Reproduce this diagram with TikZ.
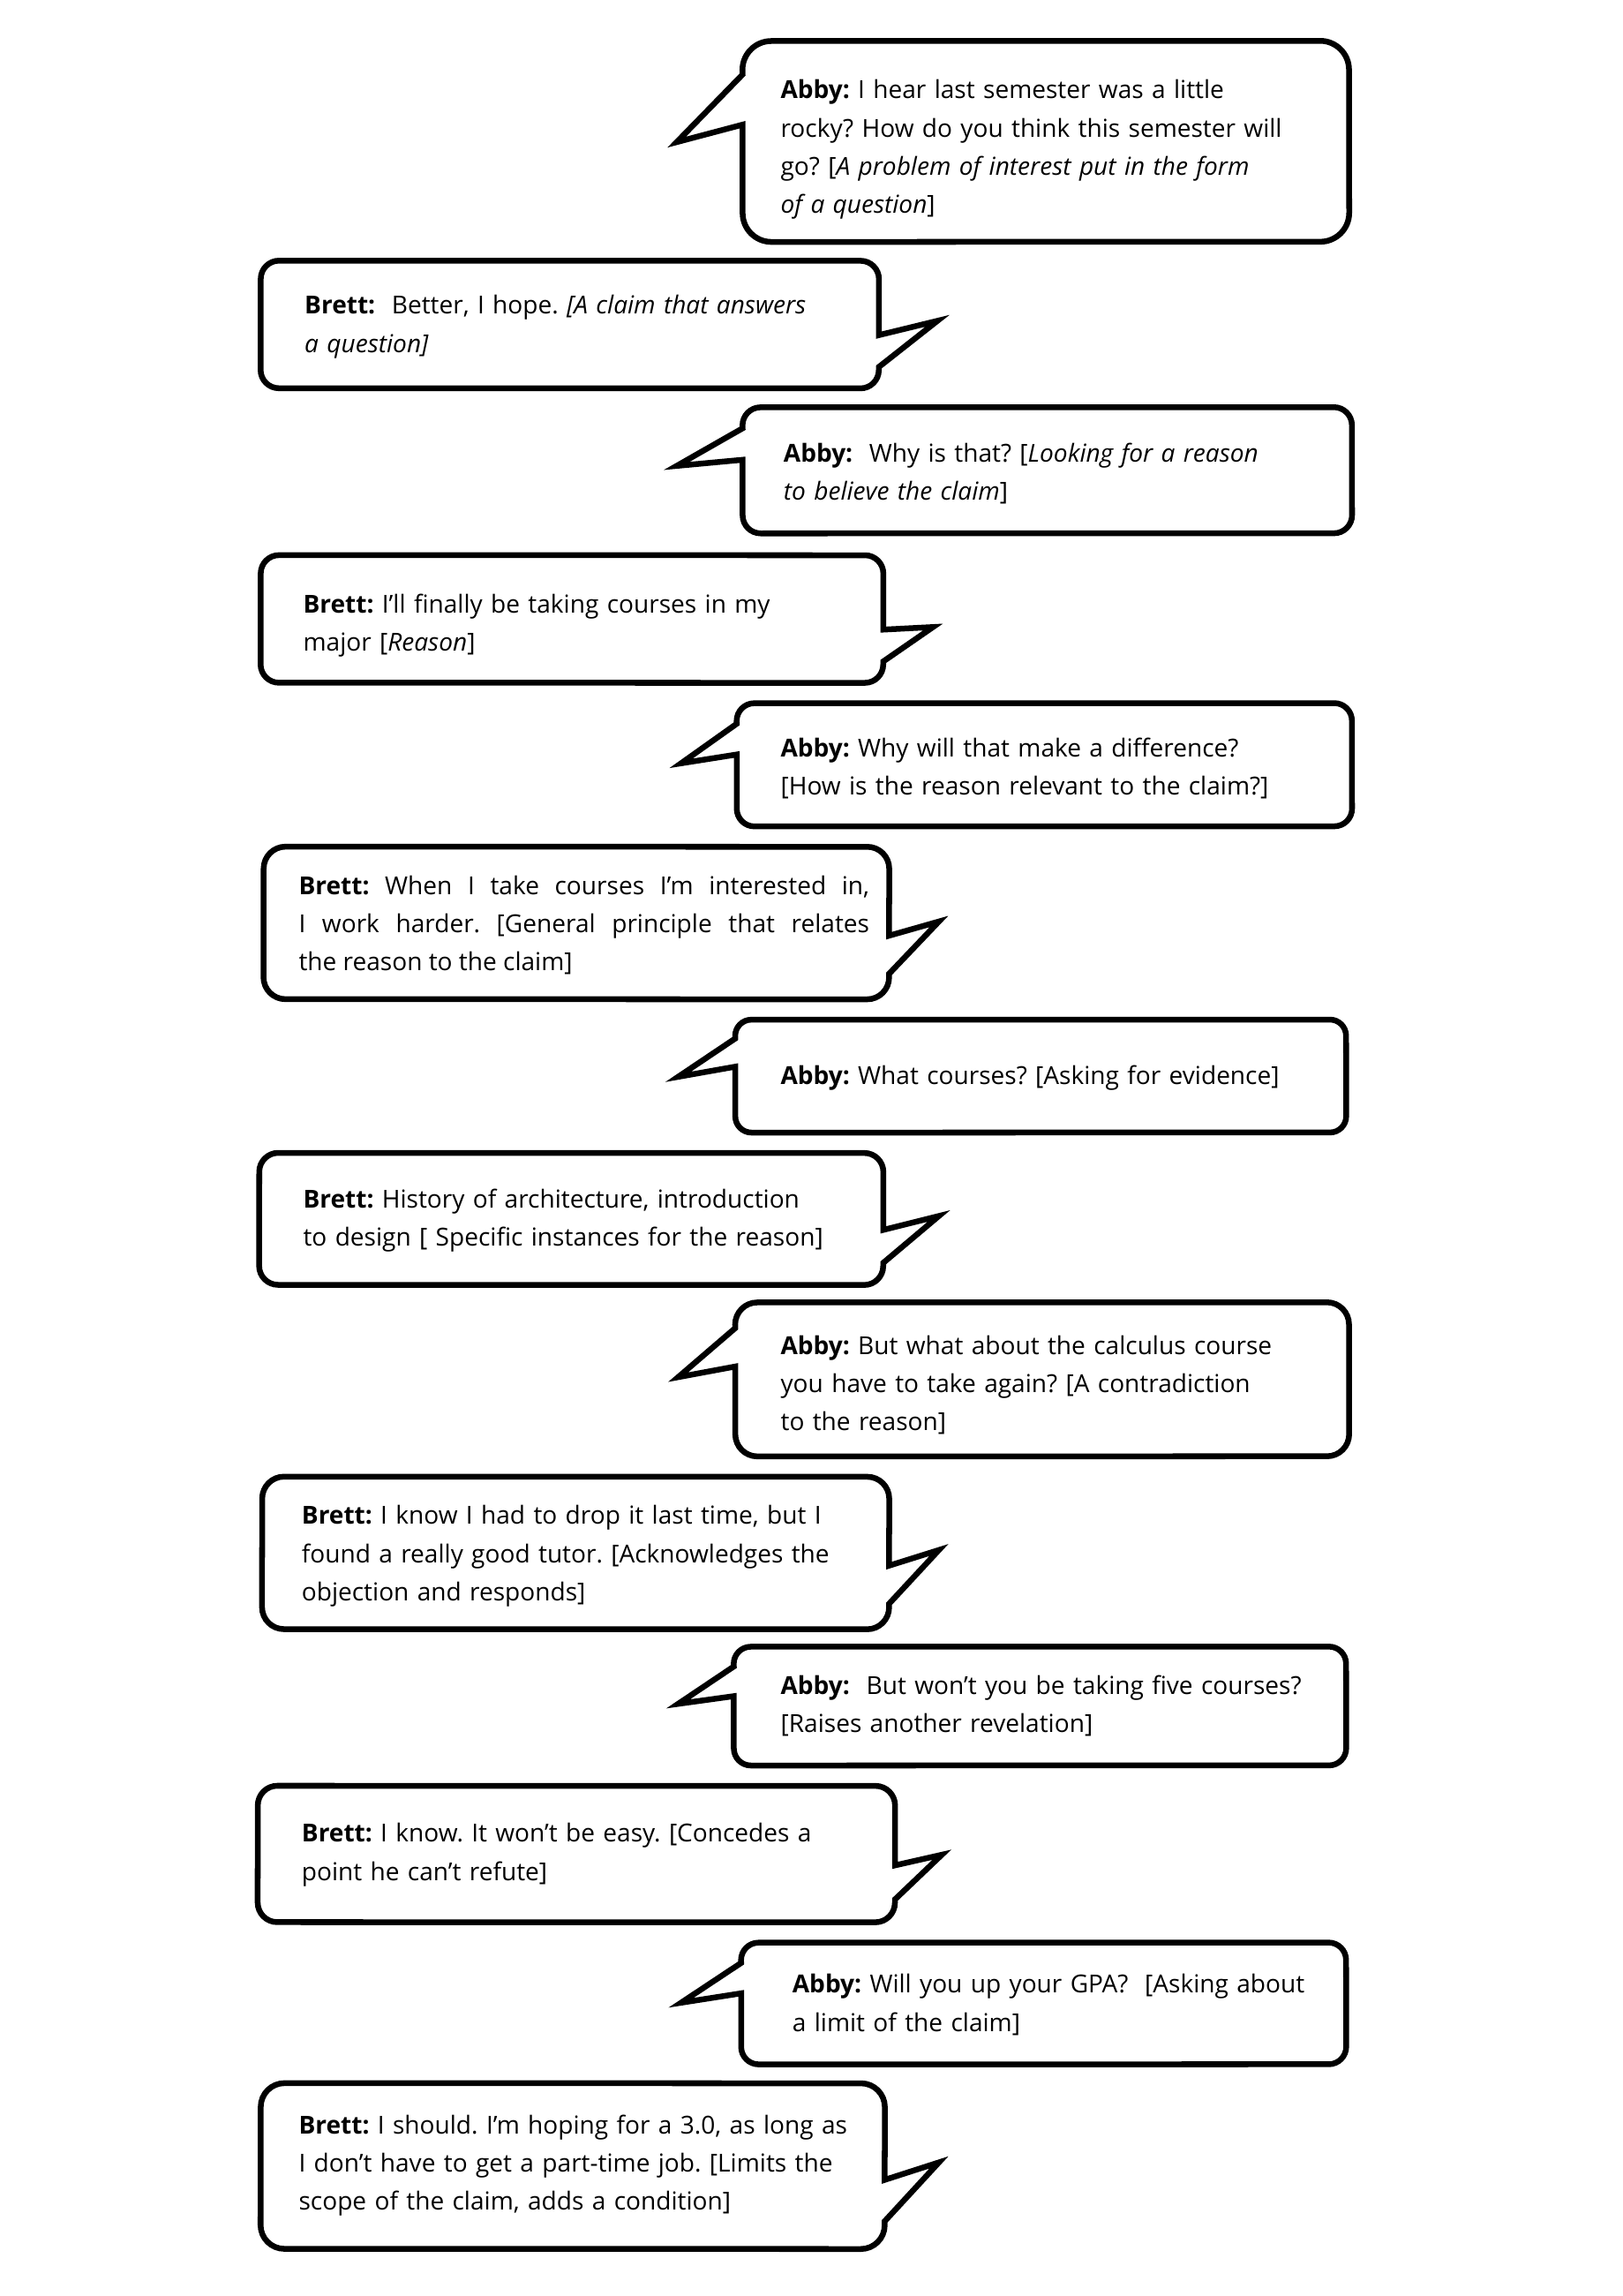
\documentclass[tikz,border=0pt]{standalone}
\usepackage{fontspec}
\setmainfont{Open Sans}
\frenchspacing
\tikzset{
  bubble/.style={draw=black, line width=3.9pt, fill=white, line join=miter},
  txt/.style={anchor=north west, inner sep=0pt, outer sep=0pt, align=left,
    text width=#1, font=\fontsize{16.8}{25.9}\selectfont},
  txt/.default=460pt,
  jtxt/.style={anchor=north west, inner sep=0pt, outer sep=0pt, align=justify,
    text width=#1, font=\fontsize{16.8}{25.9}\selectfont},
}
% Abby bubble: tail on the left.  #1 L, #2 T, #3 R, #4 B, #5 tip x, #6 tip y (y measured downwards)
\newcommand{\abbyBubble}[6]{%
  \pgfmathsetmacro\bubH{#4-#2}%
  \pgfmathsetmacro\bubR{\bubH/7}%
  \pgfmathsetmacro\bubYa{-(#2+\bubH*2/12)}%
  \pgfmathsetmacro\bubYb{-(#2+\bubH*5/12)}%
  \pgfmathsetmacro\bubT{-#2}%
  \pgfmathsetmacro\bubB{-#4}%
  \draw[bubble] (#1,\bubYa) -- (#5,-#6) -- (#1,\bubYb) -- (#1,\bubB+\bubR)
    arc[start angle=180,end angle=270,radius=\bubR pt] -- (#3-\bubR,\bubB)
    arc[start angle=270,end angle=360,radius=\bubR pt] -- (#3,\bubT-\bubR)
    arc[start angle=0,end angle=90,radius=\bubR pt] -- (#1+\bubR,\bubT)
    arc[start angle=90,end angle=180,radius=\bubR pt] -- cycle;}
% Brett bubble: tail on the right.
\newcommand{\brettBubble}[6]{%
  \pgfmathsetmacro\bubH{#4-#2}%
  \pgfmathsetmacro\bubR{\bubH/7}%
  \pgfmathsetmacro\bubYa{-(#2+\bubH*7/12)}%
  \pgfmathsetmacro\bubYb{-(#2+\bubH*10/12)}%
  \pgfmathsetmacro\bubT{-#2}%
  \pgfmathsetmacro\bubB{-#4}%
  \draw[bubble] (#3,\bubYa) -- (#5,-#6) -- (#3,\bubYb) -- (#3,\bubB+\bubR)
    arc[start angle=0,end angle=-90,radius=\bubR pt] -- (#1+\bubR,\bubB)
    arc[start angle=270,end angle=180,radius=\bubR pt] -- (#1,\bubT-\bubR)
    arc[start angle=180,end angle=90,radius=\bubR pt] -- (#3-\bubR,\bubT)
    arc[start angle=90,end angle=0,radius=\bubR pt] -- cycle;}
\newcommand{\tl}[1]{-#1+11.8}
\begin{document}
\begin{tikzpicture}[x=0.9935pt,y=0.9935pt]
\fill[white] (0,0) rectangle (1107.5,-1567.2);
\useasboundingbox (0,0) rectangle (1107.5,-1567.2);

\abbyBubble{507}{28}{921}{165}{462}{97}
\node[txt] (t1) at (533,\tl{61}) {\strut\textbf{Abby:} I hear last semester was a little\\
rocky? How do you think this semester will\\
go? [\textit{A problem of interest put in the form}\\
\textit{of a question}]};

\brettBubble{178}{178}{600}{265}{640}{219}
\node[txt] (t2) at (208,\tl{208}) {\strut\textbf{Brett:}\ \ Better, I hope. \textit{[A claim that answers}\\
\textit{a question]}};

\abbyBubble{507}{278}{923}{364}{462}{318}
\node[txt] (t3) at (535,\tl{309}) {\strut\textbf{Abby:}\ \ Why is that? [\textit{Looking for a reason}\\
\textit{to believe the claim}]};

\brettBubble{178}{379}{603}{466}{637}{428}
\node[txt] (t4) at (207,\tl{412}) {\strut\textbf{Brett:} I’ll finally be taking courses in my\\
major [\textit{Reason}]};

\abbyBubble{503}{480}{923}{564}{465}{521}
\node[txt] (t5) at (533,\tl{510}) {\strut\textbf{Abby:} Why will that make a difference?\\
{[}How is the reason relevant to the claim?]};

\brettBubble{180}{578}{607}{682}{641}{629}
\node[jtxt=387pt] (t6) at (204,\tl{604}) {\strut\textbf{Brett:} When I take courses I’m interested in,\linebreak
I work harder. [General principle that relates\linebreak
the reason to the claim]};

\abbyBubble{502}{696}{919}{773}{463}{735}
\node[txt] (t7) at (533,\tl{734}) {\strut\textbf{Abby:} What courses? [Asking for evidence]};

\brettBubble{177}{787}{603}{877}{641}{830}
\node[txt] (t8) at (207,\tl{818}) {\strut\textbf{Brett:} History of architecture, introduction\\
to design [ Specific instances for the reason]};

\abbyBubble{502}{889}{921}{994}{463}{940}
\node[txt] (t9) at (533,\tl{918}) {\strut\textbf{Abby:} But what about the calculus course\\
you have to take again? [A contradiction\\
to the reason]};

\brettBubble{179}{1008}{607}{1112}{641}{1058}
\node[txt] (t10) at (206,\tl{1034}) {\strut\textbf{Brett:} I know I had to drop it last time, but I\\
found a really good tutor. [Acknowledges the\\
objection and responds]};

\abbyBubble{501}{1124}{919}{1205}{463}{1163}
\node[txt] (t11) at (533,\tl{1150}) {\strut\textbf{Abby:}\ \ But won’t you be taking five courses?\\
{[}Raises another revelation]};

\brettBubble{176}{1219}{611}{1312}{643}{1266}
\node[txt] (t12) at (206,\tl{1251}) {\strut\textbf{Brett:} I know. It won’t be easy. [Concedes a\\
point he can’t refute]};

\abbyBubble{506}{1326}{919}{1409}{465}{1367}
\node[txt] (t13) at (541,\tl{1354}) {\strut\textbf{Abby:} Will you up your GPA?\ \ [Asking about\\
a limit of the claim]};

\brettBubble{178}{1422}{604}{1535}{641}{1476}
\node[txt] (t14) at (204,\tl{1450}) {\strut\textbf{Brett:} I should. I’m hoping for a 3.0, as long as\\
I don’t have to get a part-time job. [Limits the\\
scope of the claim, adds a condition]};
\end{tikzpicture}
\end{document}
